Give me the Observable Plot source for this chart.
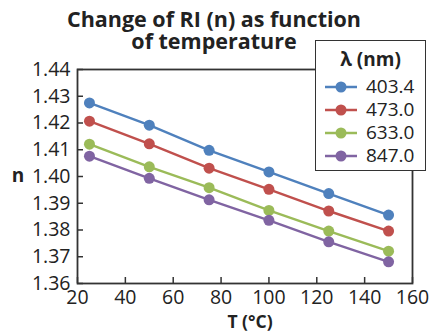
<!DOCTYPE html>
<html>
<head>
<meta charset="utf-8">
<script src="https://cdn.jsdelivr.net/npm/d3@7"></script>
<script src="https://cdn.jsdelivr.net/npm/@observablehq/plot@0.6"></script>
<style>
  html, body { margin: 0; padding: 0; background: #fff; }
  #wrap { position: relative; width: 433px; height: 334px; font-family: "Open Sans", sans-serif; color: #222; overflow: hidden; }
  #wrap > svg { position: absolute; left: 0; top: 0; }
  .title { position: absolute; left: 214px; transform: translateX(-50%); text-align: center; font-weight: 700; font-size: 21.5px; line-height: 1; white-space: nowrap; color: #222; }
  .ylab { position: absolute; left: 18px; top: 175px; transform: translate(-50%, -50%); font-weight: 700; font-size: 19px; line-height: 1; }
  .xlab { position: absolute; left: 250px; top: 321.5px; transform: translate(-50%, -50%); font-weight: 700; font-size: 17.5px; line-height: 1; white-space: nowrap; }
  .legend { position: absolute; left: 315px; top: 40px; width: 109px; height: 129px; border: 1.6px solid #333; background: #fff; }
  .legend .lt { text-align: center; font-weight: 700; font-size: 19px; line-height: 1; margin-top: 9px; height: 25px; }
  .legend .row { display: flex; align-items: center; height: 23px; font-size: 19px; line-height: 1; }
  .legend .row svg { display: block; margin-left: 9px; margin-right: 9px; }
</style>
</head>
<body>
<div id="wrap"></div>
<script>
const temps = [25, 50, 75, 100, 125, 150];
const wavelengths = ["403.4", "473.0", "633.0", "847.0"];
const n403 = [1.4275, 1.4192, 1.4098, 1.4017, 1.3936, 1.3856];
const n473 = [1.4207, 1.4122, 1.4031, 1.3952, 1.3871, 1.3796];
const n633 = [1.4121, 1.4036, 1.3958, 1.3873, 1.3796, 1.3721];
const n847 = [1.4076, 1.3993, 1.3913, 1.3836, 1.3756, 1.3681];
const colors = ["#4F81BD", "#C0504D", "#9BBB59", "#8064A2"];
const xTicks = [20, 40, 60, 80, 100, 120, 140, 160];
const yTicks = [1.36, 1.37, 1.38, 1.39, 1.40, 1.41, 1.42, 1.43, 1.44];
const titleLines = ["Change of RI (n) as function", "of temperature"];
const legendTitle = "λ (nm)";
const xLabel = "T (°C)";
const yLabel = "n";

const series = [n403, n473, n633, n847];
const data = [];
series.forEach((vals, si) => vals.forEach((v, i) => data.push({T: temps[i], n: v, wl: wavelengths[si]})));

const chart = Plot.plot({
  width: 433,
  height: 334,
  marginLeft: 77,
  marginRight: 21,
  marginTop: 69,
  marginBottom: 51,
  style: {fontFamily: "Open Sans, sans-serif", fontSize: "19.5px", color: "#222", background: "transparent"},
  x: {domain: [20, 160]},
  y: {domain: [1.36, 1.44]},
  color: {domain: wavelengths, range: colors},
  marks: [
    Plot.axisX({ticks: xTicks, tickSize: -6, tickPadding: 13, label: null, stroke: "#333", strokeWidth: 1.5}),
    Plot.axisY({ticks: yTicks, tickSize: -6, tickPadding: 13, tickFormat: d => d.toFixed(2), label: null, stroke: "#333", strokeWidth: 1.5}),
    Plot.line(data, {x: "T", y: "n", z: "wl", stroke: "wl", strokeWidth: 2.4}),
    Plot.dot(data, {x: "T", y: "n", fill: "wl", r: 5.5}),
    Plot.frame({stroke: "#333", strokeWidth: 1.8})
  ]
});

const wrap = document.getElementById("wrap");
wrap.appendChild(chart);

const titleTops = [8, 30];
titleLines.forEach((line, i) => {
  const t = document.createElement("div");
  t.className = "title";
  t.style.top = titleTops[i] + "px";
  t.textContent = line;
  wrap.appendChild(t);
});

const yl = document.createElement("div");
yl.className = "ylab"; yl.textContent = yLabel; wrap.appendChild(yl);
const xl = document.createElement("div");
xl.className = "xlab"; xl.textContent = xLabel; wrap.appendChild(xl);

const lg = document.createElement("div");
lg.className = "legend";
const lt = document.createElement("div");
lt.className = "lt"; lt.textContent = legendTitle; lg.appendChild(lt);
wavelengths.forEach((w, i) => {
  const row = document.createElement("div");
  row.className = "row";
  row.innerHTML = `<svg width="32" height="12"><line x1="0" y1="6" x2="32" y2="6" stroke="${colors[i]}" stroke-width="2.5"/><circle cx="16" cy="6" r="5.5" fill="${colors[i]}"/></svg><span>${w}</span>`;
  lg.appendChild(row);
});
wrap.appendChild(lg);
</script>
</body>
</html>
